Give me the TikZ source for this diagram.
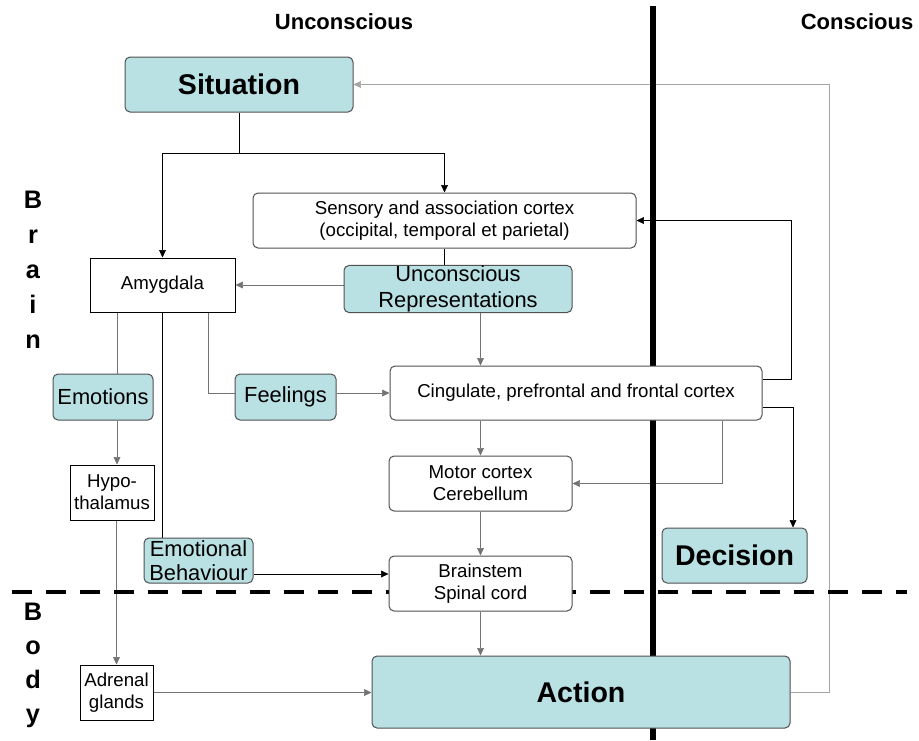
\documentclass[tikz,border=0pt]{standalone}
\usepackage{fontspec}
\setmainfont{Liberation Sans}
\usetikzlibrary{arrows.meta,backgrounds}
\definecolor{paleteal}{RGB}{185,224,227}
\definecolor{boxline}{RGB}{80,80,80}
\definecolor{midgray}{RGB}{115,115,115}
\definecolor{lightgray}{RGB}{165,165,165}
\tikzset{every picture/.style={line width=0.75pt}}
\tikzset{
  box/.style={draw=boxline, fill=white, rounded corners=3.75pt, align=center, inner sep=0pt, font=\fontsize{14}{16.5}\selectfont},
  sqbox/.style={draw=black, fill=white, align=center, inner sep=0pt, font=\fontsize{14}{16.5}\selectfont},
  hlbox/.style={draw=boxline, fill=paleteal, rounded corners=3.75pt, align=center, inner sep=0pt, font=\fontsize{16.4}{20}\selectfont},
  bigbox/.style={hlbox, font=\bfseries\fontsize{21.4}{24}\selectfont},
  link/.style={draw=black, -{Triangle[length=5.5pt,width=5pt]}},
  glink/.style={link, draw=midgray},
  heading/.style={font=\bfseries\fontsize{16.5}{18}\selectfont, inner sep=0pt},
  sideletter/.style={font=\bfseries\fontsize{19}{20}\selectfont, anchor=base, inner sep=0pt}
}

\begin{document}
\begin{tikzpicture}[x=0.75pt,y=0.75pt,yscale=-1,xscale=1]
\useasboundingbox (0,0) rectangle (919,740);

% Text Node
\node[heading] (uncon) at (344,22) {Unconscious};
% Text Node
\node[heading] (con) at (857,22) {Conscious};
% Side letters
\foreach \ch [count=\i] in {B,r,a,i,n} \node[sideletter] (brain\i) at (33,{173+35*\i}) {\ch};
\foreach \ch [count=\i] in {B,o,d,y} \node[sideletter] (body\i) at (33,{586+34*\i}) {\ch};

% Boxes
\node[bigbox, minimum width=171pt, minimum height=41.25pt] (situation) at (239,84.5) {Situation};
\node[box, minimum width=287.25pt, minimum height=41.25pt] (sensory) at (444.5,220.5) {Sensory and association cortex\\(occipital, temporal et parietal)};
\node[hlbox, minimum width=171pt, minimum height=34.5pt, font=\fontsize{16.4}{20}\selectfont] (unrep) at (458,289) {Unconscious\\Representations};
\node[sqbox, minimum width=108.75pt, minimum height=40.5pt] (amygdala) at (162.5,285) {Amygdala};
\node[box, minimum width=279pt, minimum height=40.5pt] (cingulate) at (576,393) {Cingulate, prefrontal and frontal cortex};
\node[hlbox, minimum width=75pt, minimum height=34.5pt] (emotions) at (103,397) {Emotions};
\node[hlbox, minimum width=75.75pt, minimum height=34.5pt] (feelings) at (285.5,397) {Feelings};
\node[sqbox, minimum width=63pt, minimum height=41.25pt] (hypo) at (112,492.5) {Hypo-\\thalamus};
\node[box, minimum width=137.25pt, minimum height=41.25pt] (motor) at (480.5,483.5) {Motor cortex\\Cerebellum};
\node[hlbox, minimum width=81.75pt, minimum height=33.75pt, font=\fontsize{16.4}{18}\selectfont] (emobeh) at (198.5,560.5) {Emotional\\Behaviour};
\node[box, minimum width=137.25pt, minimum height=41.25pt] (brainstem) at (480.5,583.5) {Brainstem\\Spinal cord};
\node[bigbox, minimum width=108.75pt, minimum height=41.25pt] (decision) at (734.5,555.5) {Decision};
\node[sqbox, minimum width=54.75pt, minimum height=41.25pt] (adrenal) at (116.5,692.5) {Adrenal\\glands};
\node[bigbox, minimum width=313.5pt, minimum height=54pt] (action) at (581,692) {Action};

% bend points
\coordinate (fork) at (239,153);
\coordinate (emoX) at (117,0);
\coordinate (feelX) at (208,0);
\coordinate (loopS) at (791,379);
\coordinate (loopD) at (793,407);
\coordinate (loopM) at (722,0);
\coordinate (backX) at (829,0);
\coordinate (behY) at (0,574);

\begin{scope}[on background layer]
%Straight Lines
\draw[link, -] (situation.south) -- (fork);
\draw[link] (fork) -| (amygdala.north);
\draw[link] (fork) -| (sensory.north);
\draw[link, -] (sensory.south) -- (sensory.south |- unrep.north);
\draw[glink] (unrep.west |- amygdala.east) -- (amygdala.east);
\draw[glink] (unrep.south -| motor) -- (cingulate.north -| motor);
\draw[link] (cingulate.east |- loopS) -- (loopS) |- (sensory.east);
\draw[link] (cingulate.east |- loopD) -- (loopD) -- (loopD |- decision.north);
\draw[glink] (cingulate.south -| loopM) |- (motor.east);
\draw[glink] (cingulate.south -| motor) -- (motor.north);
\draw[glink] (motor.south) -- (brainstem.north);
\draw[glink] (brainstem.south) -- (brainstem.south |- action.north);
\draw[glink, draw=lightgray] (action.east) -- (action.east -| backX) -- (backX |- situation.east) -- (situation.east);
\draw[glink, -] (amygdala.south -| emoX) -- (emotions.north -| emoX);
\draw[link, -] (amygdala.south) -- (amygdala.south |- emobeh.north);
\draw[glink, -] (amygdala.south -| feelX) |- (feelings.west |- cingulate.west);
\draw[glink] (feelings.east |- cingulate.west) -- (cingulate.west);
\draw[glink] (emotions.south -| emoX) -- (hypo.north -| emoX);
\draw[glink] (hypo.south -| adrenal) -- (adrenal.north);
\draw[glink] (adrenal.east) -- (adrenal.east -| action.west);
\draw[link] (emobeh.east |- behY) -- (brainstem.west |- behY);
% dividers
\draw[line width=4pt] (653,6) -- (653,740);
\draw[line width=3.5pt, dash pattern=on 15pt off 10.5pt] (12,592) -- (907,592);
\end{scope}

\end{tikzpicture}
\end{document}
